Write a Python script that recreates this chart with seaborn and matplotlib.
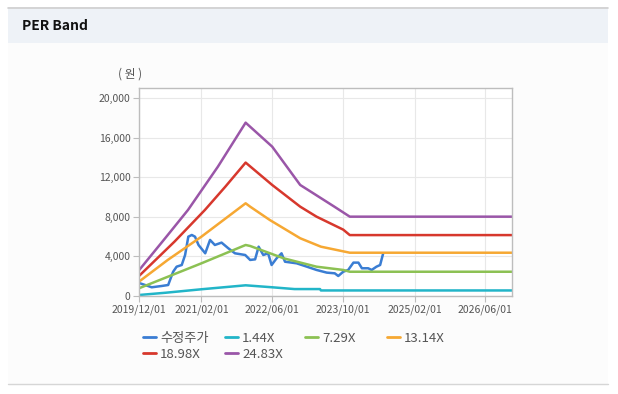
import pandas as pd
import numpy as np
import matplotlib
matplotlib.use("Agg")
import matplotlib.pyplot as plt
import matplotlib.dates as mdates
from matplotlib.patches import Rectangle
from matplotlib.lines import Line2D
import seaborn as sns

sns.set_theme(style="white")
plt.rcParams["font.family"] = ["Noto Sans CJK KR", "DejaVu Sans"]

# ---- data ----
price_dates = ["2019-12-08", "2020-01-12", "2020-02-26", "2020-05-04", "2020-06-18",
               "2020-07-22", "2020-08-15", "2020-09-19", "2020-10-12", "2020-11-03",
               "2020-11-27", "2020-12-19", "2021-01-12", "2021-02-27", "2021-04-01",
               "2021-05-04", "2021-06-19", "2021-08-04", "2021-09-19", "2021-11-28",
               "2022-01-01", "2022-02-04", "2022-02-28", "2022-04-01", "2022-05-04",
               "2022-05-28", "2022-07-01", "2022-08-04", "2022-08-28", "2022-11-16",
               "2023-01-25", "2023-04-01", "2023-06-10", "2023-08-04", "2023-08-28",
               "2023-10-01", "2023-11-04", "2023-12-10", "2024-01-13", "2024-02-06",
               "2024-03-20", "2024-04-13", "2024-05-16", "2024-06-10", "2024-07-01"]
price_values = [1280, 1110, 880, 1010, 1110,
                2450, 2960, 3130, 4140, 5990,
                6160, 5990, 5150, 4310, 5660,
                5150, 5390, 4820, 4310, 4140,
                3640, 3700, 4980, 4140, 4310,
                3130, 3800, 4310, 3460, 3300,
                2960, 2630, 2360, 2290, 2020,
                2450, 2630, 3370, 3370, 2800,
                2800, 2630, 2960, 3130, 4310]

band_144_dates = ["2019-12-01", "2020-06-01", "2021-02-01", "2021-12-01", "2022-06-01",
                  "2022-11-01", "2023-04-25", "2023-05-01", "2026-12-01"]
band_144_values = [100, 330, 680, 1080, 880, 700, 700, 560, 560]

band_729_dates = ["2019-12-01", "2021-02-01", "2021-12-01", "2022-01-01", "2022-08-20",
                  "2023-04-01", "2023-10-01", "2023-11-15", "2026-12-01"]
band_729_values = [780, 3300, 5150, 5050, 3800, 2960, 2630, 2450, 2450]

band_1314_dates = ["2019-12-01", "2020-06-15", "2021-02-01", "2021-12-01", "2022-01-01",
                   "2022-05-15", "2022-12-10", "2023-05-01", "2023-11-15", "2026-12-01"]
band_1314_values = [1450, 3640, 5990, 9360, 9020, 7680, 5830, 4980, 4370, 4370]

band_1898_dates = ["2019-12-01", "2020-08-01", "2021-02-25", "2021-07-15", "2021-12-01",
                   "2022-06-01", "2022-12-10", "2023-04-01", "2023-10-01", "2023-11-15",
                   "2026-12-01"]
band_1898_values = [2020, 5500, 8690, 11040, 13470, 11210, 9020, 8010, 6700, 6150, 6150]

band_2483_dates = ["2019-12-01", "2020-06-01", "2020-11-01", "2021-05-25", "2021-12-01",
                   "2022-06-01", "2022-12-10", "2023-03-10", "2023-08-01", "2023-11-15",
                   "2026-12-01"]
band_2483_values = [2600, 5900, 8690, 13060, 17500, 15080, 11210, 10370, 9020, 8010, 8010]

series_names = ["수정주가", "1.44X", "7.29X", "13.14X", "18.98X", "24.83X"]
series_colors = ["#3a7dd3", "#22b5c8", "#8cc153", "#f6a833", "#d7382d", "#9a56a8"]

x_ticks = ["2019-12-01", "2021-02-01", "2022-06-01", "2023-10-01", "2025-02-01", "2026-06-01"]
y_ticks = [0, 4000, 8000, 12000, 16000, 20000]

# ---- long table for seaborn ----
parts = [
    (series_names[0], price_dates, price_values),
    (series_names[1], band_144_dates, band_144_values),
    (series_names[2], band_729_dates, band_729_values),
    (series_names[3], band_1314_dates, band_1314_values),
    (series_names[4], band_1898_dates, band_1898_values),
    (series_names[5], band_2483_dates, band_2483_values),
]
frames = []
for name, d, v in parts:
    frames.append(pd.DataFrame({"date": pd.to_datetime(d), "value": v, "series": name}))
df = pd.concat(frames, ignore_index=True)

W, H = 618, 394
fig = plt.figure(figsize=(W / 100, H / 100), dpi=100)
fig.patch.set_facecolor("white")

# panel background, header strip and rules
fig.add_artist(Rectangle((8 / W, 1 - 384 / H), 600 / W, 341 / H, transform=fig.transFigure,
                         facecolor="#fcfcfc", edgecolor="none", zorder=0))
fig.add_artist(Rectangle((8 / W, 1 - 43 / H), 600 / W, 36 / H, transform=fig.transFigure,
                         facecolor="#eef2f7", edgecolor="none", zorder=0))
fig.add_artist(Line2D([8 / W, 608 / W], [1 - 7.5 / H, 1 - 7.5 / H], transform=fig.transFigure,
                      color="#cfcfcf", lw=1.2))
fig.add_artist(Line2D([8 / W, 608 / W], [1 - 384 / H, 1 - 384 / H], transform=fig.transFigure,
                      color="#d6d6d6", lw=1.0))
fig.text(22 / W, 1 - 26 / H, "PER Band", fontsize=10, fontweight="bold", color="#111111",
         va="center", ha="left")

ax = fig.add_axes([139 / W, 1 - 296 / H, 373 / W, 208 / H])
ax.set_facecolor("white")

sns.lineplot(data=df, x="date", y="value", hue="series", hue_order=series_names,
             palette=series_colors, linewidth=1.8, ax=ax, legend=False, sort=False)

ax.set_xlim(pd.Timestamp("2019-12-01"), pd.Timestamp("2026-12-01"))
ax.set_ylim(0, 21000)
ax.set_xticks(pd.to_datetime(x_ticks))
ax.xaxis.set_major_formatter(mdates.DateFormatter("%Y/%m/%d"))
ax.set_yticks(y_ticks)
ax.set_yticklabels([f"{t:,}" for t in y_ticks])
ax.set_xlabel("")
ax.set_ylabel("")

ax.grid(True, color="#e8e8e8", linewidth=0.8)
ax.set_axisbelow(True)
for sp in ax.spines.values():
    sp.set_color("#bdbdbd")
    sp.set_linewidth(1.0)
ax.tick_params(axis="both", which="major", length=4, width=0.8, color="#bdbdbd",
               labelsize=7.5, labelcolor="#555555", pad=2, direction="out")
ax.tick_params(axis="x", bottom=True)
ax.tick_params(axis="y", left=True)

fig.text(130 / W, 1 - 74 / H, "( 원 )", fontsize=8.5, color="#555555", ha="center", va="center")

# legend: fixed-width columns, one small legend per column
handles = [Line2D([], [], color=c, lw=2.0) for c in series_colors]
legend_cols = [(143, [0, 4]), (225, [1, 5]), (305, [2]), (387, [3])]
for x0, idx in legend_cols:
    leg = fig.legend([handles[i] for i in idx], [series_names[i] for i in idx],
                     loc="upper left", bbox_to_anchor=(x0 / W, 1 - 332 / H), ncol=1,
                     frameon=False, fontsize=9.5, handlelength=1.0, handletextpad=0.3,
                     labelspacing=0.2, borderpad=0, borderaxespad=0, labelcolor="#555555")

fig.savefig("out.png", dpi=100, facecolor=fig.get_facecolor())
